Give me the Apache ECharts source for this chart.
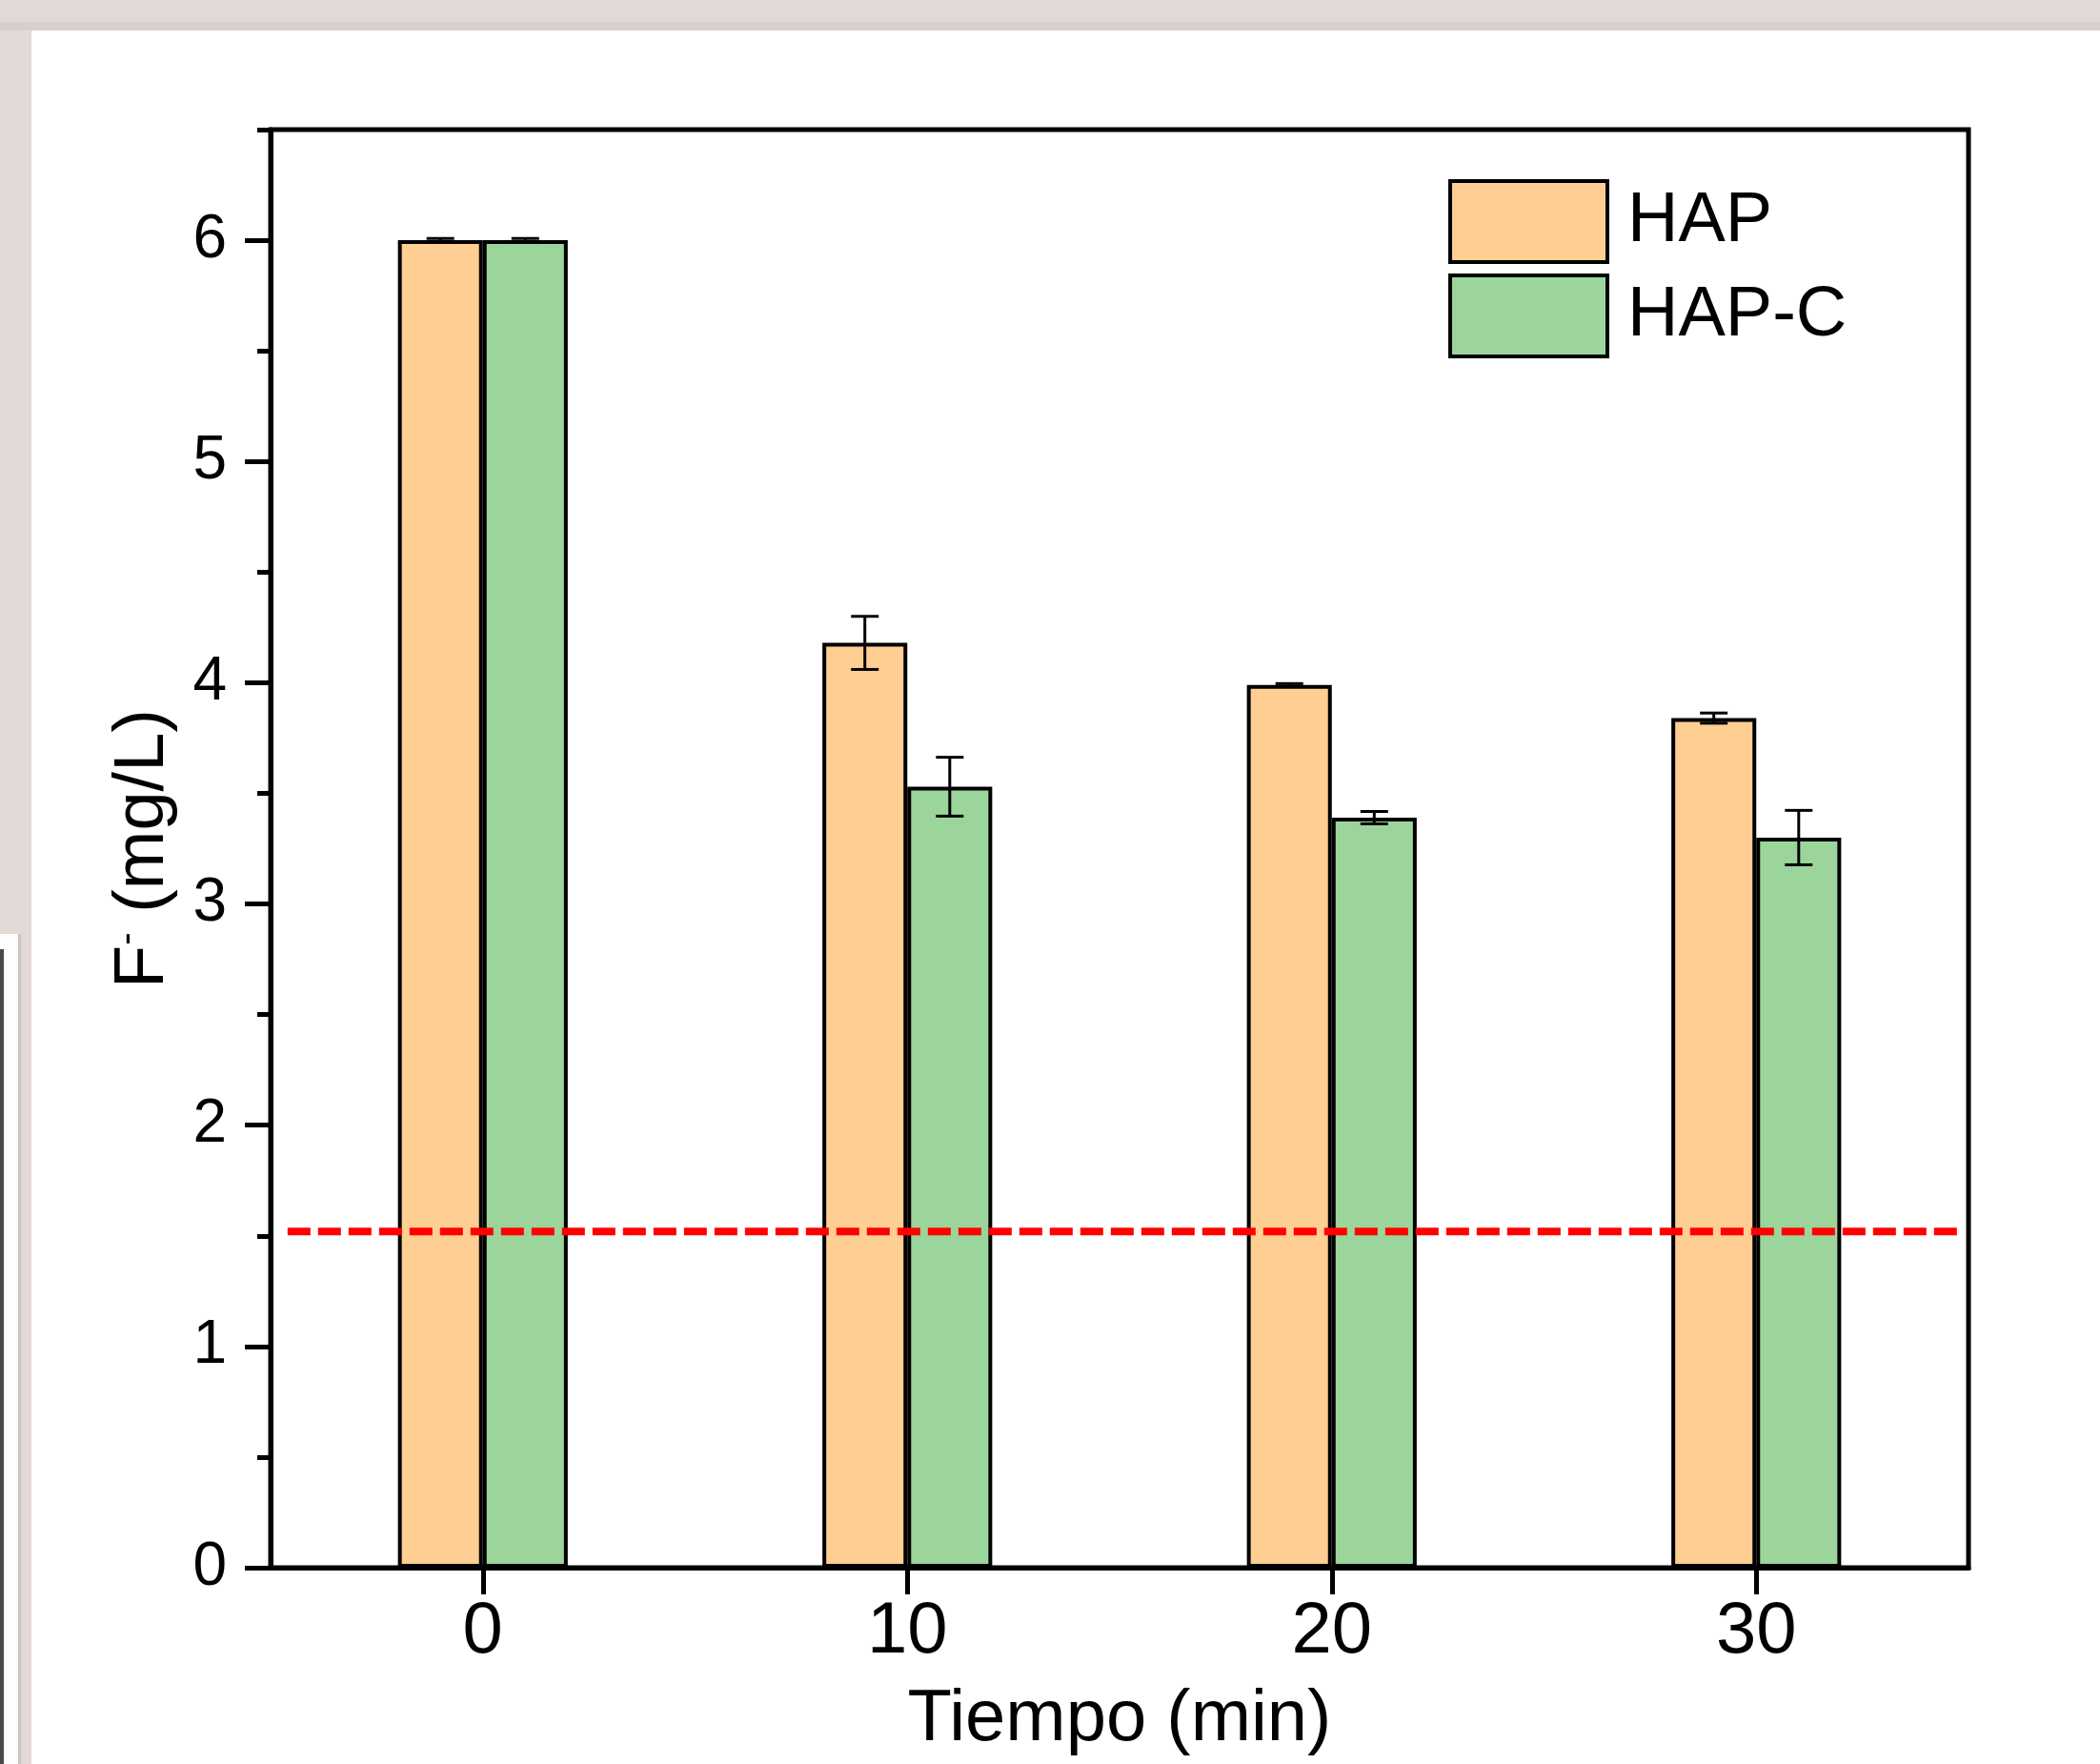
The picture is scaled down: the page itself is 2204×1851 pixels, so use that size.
<!DOCTYPE html>
<html>
<head>
<meta charset="utf-8">
<script src="https://cdn.jsdelivr.net/npm/echarts@6/dist/echarts.min.js"></script>
<style>
html,body{margin:0;padding:0;background:#fff;}
#chart{width:2204px;height:1851px;}
</style>
</head>
<body>
<div id="chart"></div>
<script>
// ---- data ----
const categories = ['0', '10', '20', '30'];
const hapValues = [6.0, 4.18, 3.99, 3.84];
const hapErr = [0.008, 0.12, 0.006, 0.023];
const hapcValues = [6.0, 3.53, 3.39, 3.30];
const hapcErr = [0.008, 0.133, 0.028, 0.123];
const yMajorTicks = [0, 1, 2, 3, 4, 5, 6];
const yMinorTicks = [0.5, 1.5, 2.5, 3.5, 4.5, 5.5, 6.5];
const limitValue = 1.52;
const limitXRange = [-4.6, 34.75];

const FONT = "'Liberation Sans', Arial, sans-serif";
const chart = echarts.init(document.getElementById('chart'), null, {renderer: 'canvas'});

function errData(vals, errs) {
  return vals.map((v, i) => [i, v - errs[i], v + errs[i]]);
}
function makeErrRender(side) {
  return function (params, api) {
    const ci = api.value(0);
    const lo = api.value(1), hi = api.value(2);
    const band = api.size([1, 0])[0];
    const cx = api.coord([ci, 0])[0] + side * band * 0.1;
    const yLo = api.coord([ci, lo])[1];
    const yHi = api.coord([ci, hi])[1];
    const hw = 14.5;
    const st = {stroke: '#000', lineWidth: 3};
    return {
      type: 'group',
      children: [
        {type: 'line', shape: {x1: cx, y1: yLo, x2: cx, y2: yHi}, style: st},
        {type: 'line', shape: {x1: cx - hw, y1: yHi, x2: cx + hw, y2: yHi}, style: st},
        {type: 'line', shape: {x1: cx - hw, y1: yLo, x2: cx + hw, y2: yLo}, style: st}
      ]
    };
  };
}

const option = {
  backgroundColor: '#E2D8D6',
  animation: false,
  textStyle: {fontFamily: FONT, color: '#000'},
  graphic: [
    {type: 'rect', z: -10, shape: {x: 0, y: 23, width: 2204, height: 9}, style: {fill: '#D8CECC'}},
    {type: 'rect', z: -10, shape: {x: 33, y: 32, width: 2171, height: 1819}, style: {fill: '#FFFFFF'}},
    {type: 'rect', z: -10, shape: {x: 0, y: 980, width: 22, height: 871}, style: {fill: '#FDFDFD'}},
    {type: 'rect', z: -10, shape: {x: 19, y: 980, width: 3, height: 871}, style: {fill: '#C9C3C2'}},
    {type: 'rect', z: -10, shape: {x: 0, y: 996, width: 4, height: 855}, style: {fill: '#4A4A4A'}}
  ],
  grid: {
    left: 284, right: 138, top: 136, bottom: 206,
    show: true, borderColor: '#000', borderWidth: 5, backgroundColor: 'transparent',
    containLabel: false, outerBoundsMode: 'none'
  },
  legend: {
    orient: 'vertical',
    left: 1515, top: 183,
    itemWidth: 165, itemHeight: 85, itemGap: 10,
    icon: 'rect',
    itemStyle: {borderColor: '#000', borderWidth: 4},
    textStyle: {fontFamily: FONT, fontSize: 74, color: '#000', padding: [0, 0, 0, 16]},
    data: ['HAP', 'HAP-C'],
    selectedMode: false
  },
  xAxis: [
    {
      type: 'category',
      data: categories,
      position: 'bottom',
      axisLine: {show: true, onZero: false, lineStyle: {color: '#000', width: 5}},
      axisTick: {show: true, alignWithLabel: true, interval: 0, length: 28, inside: false, lineStyle: {color: '#000', width: 5}},
      axisLabel: {fontFamily: FONT, fontSize: 76, color: '#000', margin: 30, interval: 0},
      splitLine: {show: false},
      name: 'Tiempo (min)',
      nameLocation: 'middle',
      nameGap: 122,
      nameTextStyle: {fontFamily: FONT, fontSize: 76, color: '#000'}
    },
    {
      type: 'value', min: -5, max: 35, show: false,
      axisLine: {show: false, onZero: false}
    }
  ],
  yAxis: [
    {
      type: 'value', min: 0, max: 6.5, interval: 1,
      position: 'left',
      axisLine: {show: true, onZero: false, lineStyle: {color: '#000', width: 5}},
      axisTick: {show: true, length: 27, inside: false, customValues: yMajorTicks, lineStyle: {color: '#000', width: 5}},
      axisLabel: {fontFamily: FONT, fontSize: 64, color: '#000', margin: 46, customValues: yMajorTicks},
      splitLine: {show: false},
      name: 'F{s|-} (mg/L)',
      nameLocation: 'middle',
      nameGap: 96,
      nameTextStyle: {
        fontFamily: FONT, fontSize: 74, color: '#000',
        rich: {s: {fontFamily: FONT, fontSize: 40, color: '#000', verticalAlign: 'top'}}
      }
    },
    {
      type: 'value', min: 0, max: 6.5, interval: 0.5,
      position: 'left',
      axisLine: {show: false, onZero: false},
      axisTick: {show: true, length: 14, inside: false, customValues: yMinorTicks, lineStyle: {color: '#000', width: 5}},
      axisLabel: {show: false},
      splitLine: {show: false}
    }
  ],
  series: [
    {
      name: 'HAP', type: 'bar', xAxisIndex: 0, yAxisIndex: 0,
      data: hapValues, barWidth: '20%', barGap: '0%', z: 2,
      itemStyle: {color: '#FECE93', borderColor: '#000', borderWidth: 4}
    },
    {
      name: 'HAP-C', type: 'bar', xAxisIndex: 0, yAxisIndex: 0,
      data: hapcValues, barWidth: '20%', barGap: '0%', z: 2,
      itemStyle: {color: '#9CD59B', borderColor: '#000', borderWidth: 4}
    },
    {
      name: 'HAP err', type: 'custom', xAxisIndex: 0, yAxisIndex: 0, z: 3, silent: true,
      encode: {x: 0, y: [1, 2]},
      data: errData(hapValues, hapErr),
      renderItem: makeErrRender(-1)
    },
    {
      name: 'HAP-C err', type: 'custom', xAxisIndex: 0, yAxisIndex: 0, z: 3, silent: true,
      encode: {x: 0, y: [1, 2]},
      data: errData(hapcValues, hapcErr),
      renderItem: makeErrRender(1)
    },
    {
      name: 'limit', type: 'line', xAxisIndex: 1, yAxisIndex: 0, z: 5, silent: true,
      symbol: 'none',
      data: limitXRange.map(x => [x, limitValue]),
      lineStyle: {color: '#FF0000', width: 8, type: [24, 8]}
    }
  ]
};
chart.setOption(option);
</script>
</body>
</html>
